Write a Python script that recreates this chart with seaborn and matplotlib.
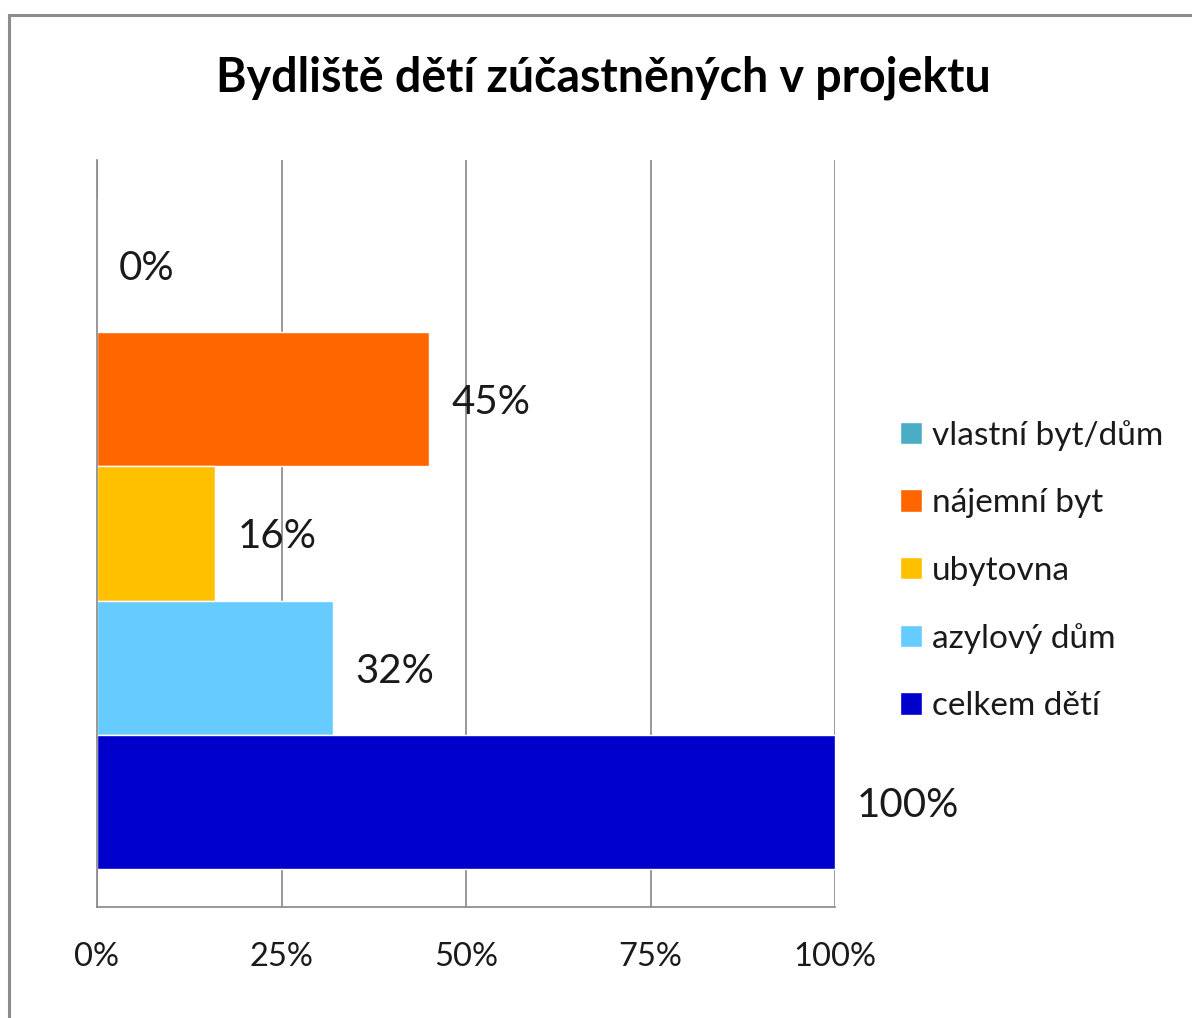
import seaborn as sns
import pandas as pd
import matplotlib.pyplot as plt
from matplotlib.patches import Rectangle

# data
categories = ['vlastní byt/dům', 'nájemní byt', 'ubytovna', 'azylový dům', 'celkem dětí']
values = [0, 45, 16, 32, 100]
colors = ['#4BACC6', '#FF6600', '#FFC000', '#66CCFF', '#0000CC']
x_ticks = [0, 25, 50, 75, 100]

sns.set_theme(style="white")
plt.rcParams['font.family'] = ['Lato', 'DejaVu Sans']

df = pd.DataFrame({'Bydliště': categories, 'Podíl': values})

fig = plt.figure(figsize=(11.92, 10.18), dpi=100)
ax = fig.add_axes([97 / 1192, 111 / 1018, 738 / 1192, 747 / 1018])

sns.barplot(data=df, y='Bydliště', x='Podíl', hue='Bydliště', order=categories,
            hue_order=categories, palette=colors, orient='h', width=1.0,
            dodge=False, saturation=1, legend=True, ax=ax)

for cont in ax.containers:
    lbls = ax.bar_label(cont, labels=[f'{v:.0f}%' for v in cont.datavalues],
                        padding=16, fontsize=29, color='#1a1a1a')
    for t in lbls:
        t.set_va('center_baseline')

ax.set_xlim(0, 100)
ax.set_ylim(4.78, -0.78)
ax.set_xticks(x_ticks)
ax.set_xticklabels([f'{t}%' for t in x_ticks])
ax.set_yticks([])
ax.set_xlabel('')
ax.set_ylabel('')
ax.tick_params(axis='x', length=0, pad=25, labelsize=23.5, labelcolor='#1a1a1a')

ax.set_axisbelow(True)
ax.xaxis.grid(True, color='#868686', linewidth=1.2)
for side in ['top', 'right']:
    ax.spines[side].set_visible(False)
for side in ['left', 'bottom']:
    ax.spines[side].set_color('#868686')
    ax.spines[side].set_linewidth(1.2)

leg = ax.legend(loc='upper left', bbox_to_anchor=(900 / 1192, 1 - 420 / 1018),
                bbox_transform=fig.transFigure, frameon=False, fontsize=24,
                handlelength=0.65, handleheight=0.65, handletextpad=0.3,
                labelspacing=1.12, borderaxespad=0, borderpad=0,
                labelcolor='#1a1a1a')
leg.set_title('')

fig.text(603 / 1192, 1 - 78 / 1018, 'Bydliště dětí zúčastněných v projektu',
         ha='center', va='center', fontsize=33.5, fontweight='bold', color='black')

# outer chart border like the original
fig.patches.append(Rectangle((9 / 1192, -0.05), 1.1, 1.05 - 15 / 1018,
                             transform=fig.transFigure, fill=False,
                             edgecolor='#8c8c8c', linewidth=2.2))

fig.savefig('out.png', dpi=100, facecolor='white')
